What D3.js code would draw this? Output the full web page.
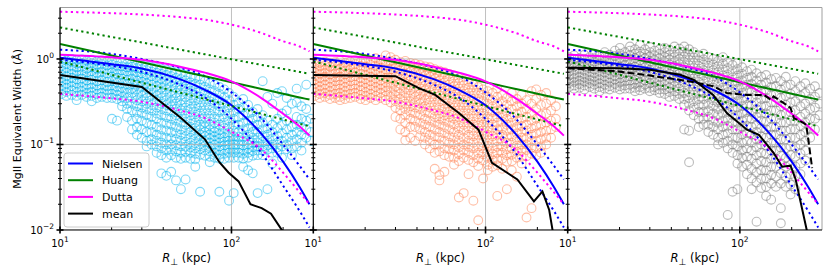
<!DOCTYPE html>
<html>
<head>
<meta charset="utf-8">
<script src="https://cdn.jsdelivr.net/npm/d3@7"></script>
<style>
body { margin: 0; background: #fff; }
svg { display: block; font-family: "DejaVu Sans", sans-serif; }
</style>
</head>
<body>
<script>
const width = 830;
const height = 277;

// axis extents and ticks
const xDomain = [10, 300];
const yDomain = [0.01, 4];
const xMajor = [10, 100];
const xMinor = [20, 30, 40, 50, 60, 70, 80, 90, 200];
const yMajor = [0.01, 0.1, 1];
const yMinor = [0.02, 0.03, 0.04, 0.05, 0.06, 0.07, 0.08, 0.09,
  0.2, 0.3, 0.4, 0.5, 0.6, 0.7, 0.8, 0.9, 2, 3];

// model curves (same in every panel)
const modelR = [10, 20, 30, 50, 70, 100, 150, 200, 250, 285];
const nielsenW = [1.035, 0.87, 0.776, 0.582, 0.436, 0.288, 0.132, 0.063, 0.0316, 0.020];
const nielsenHi = [1.285, 1.148, 1.0, 0.794, 0.631, 0.407, 0.2, 0.1, 0.056, 0.039];
const nielsenLo = [0.977, 0.832, 0.708, 0.501, 0.355, 0.2, 0.079, 0.033, 0.0166, 0.0107];
const huangW = [1.496, 1.096, 0.916, 0.73, 0.627, 0.535, 0.446, 0.392, 0.355, 0.335];
const huangHi = [2.34, 1.81, 1.56, 1.285, 1.135, 0.993, 0.853, 0.766, 0.705, 0.671];
const huangLo = [0.938, 0.653, 0.528, 0.405, 0.34, 0.282, 0.228, 0.196, 0.175, 0.163];
const duttaW = [1.122, 1.047, 0.977, 0.813, 0.692, 0.547, 0.347, 0.229, 0.162, 0.127];
const duttaHi = [3.57, 3.43, 3.31, 3.09, 2.88, 2.52, 2.01, 1.61, 1.40, 1.23];
const duttaLo = [0.39, 0.347, 0.316, 0.251, 0.204, 0.141, 0.087, 0.0468, 0.0275, 0.02];

// mean profiles
const mean1R = [10, 30, 50, 70, 85, 96, 110, 129, 150, 170, 200];
const mean1W = [0.65, 0.47, 0.21, 0.115, 0.062, 0.047, 0.037, 0.020, 0.018, 0.0155, 0.0095];
const mean2R = [10, 30, 41, 51, 57, 70, 91, 109, 153, 191, 214, 234, 246];
const mean2W = [0.65, 0.63, 0.457, 0.38, 0.32, 0.233, 0.149, 0.061, 0.039, 0.0216, 0.0283, 0.0173, 0.0095];
const mean3R = [10, 20, 30, 45, 54, 70, 84, 110, 129, 157, 176, 197, 211, 246];
const mean3W = [0.79, 0.78, 0.75, 0.655, 0.57, 0.38, 0.233, 0.149, 0.13, 0.08, 0.055, 0.0565, 0.039, 0.0095];
const dash3R = [10, 19, 30, 51, 70, 84, 96, 110, 138, 151, 157, 180, 197, 206, 235, 243, 263];
const dash3W = [0.78, 0.72, 0.64, 0.547, 0.48, 0.4, 0.39, 0.38, 0.38, 0.334, 0.365, 0.305, 0.267, 0.204, 0.178, 0.17, 0.053];

// scatter, one column per R: [R, W, W, ...]
const cyanCols = [
  [10.2, 1.0, 0.9, 0.82, 0.74, 0.66, 0.6, 0.54, 0.48, 0.43, 0.39],
  [10.9, 0.96, 0.87, 0.78, 0.7, 0.63, 0.57, 0.51, 0.46, 0.41, 0.37],
  [11.7, 1.0, 0.92, 0.83, 0.75, 0.67, 0.6, 0.53, 0.48, 0.43, 0.38],
  [12.5, 0.97, 0.88, 0.8, 0.72, 0.65, 0.58, 0.52, 0.46, 0.41, 0.37, 0.33],
  [13.4, 0.99, 0.9, 0.81, 0.73, 0.66, 0.59, 0.53, 0.47, 0.42, 0.38],
  [14.3, 0.95, 0.86, 0.77, 0.7, 0.63, 0.56, 0.5, 0.45, 0.4, 0.36],
  [15.3, 0.98, 0.89, 0.8, 0.72, 0.64, 0.57, 0.51, 0.46, 0.41, 0.37, 0.32],
  [16.4, 0.94, 0.85, 0.77, 0.69, 0.62, 0.55, 0.49, 0.44, 0.39, 0.35],
  [17.5, 0.96, 0.87, 0.79, 0.71, 0.63, 0.56, 0.5, 0.45, 0.4, 0.36],
  [18.8, 0.93, 0.84, 0.76, 0.68, 0.61, 0.54, 0.48, 0.43, 0.39, 0.35],
  [20.1, 0.95, 0.86, 0.78, 0.7, 0.62, 0.55, 0.49, 0.44, 0.39, 0.35, 0.2],
  [21.5, 0.92, 0.83, 0.75, 0.67, 0.6, 0.53, 0.47, 0.42, 0.38, 0.34, 0.19],
  [23, 0.9, 0.82, 0.74, 0.66, 0.59, 0.52, 0.46, 0.41, 0.36, 0.32, 0.28],
  [24.6, 0.88, 0.8, 0.72, 0.64, 0.57, 0.51, 0.45, 0.4, 0.35, 0.3, 0.26, 0.21],
  [26.3, 0.9, 0.81, 0.73, 0.65, 0.58, 0.51, 0.45, 0.4, 0.35, 0.3, 0.25, 0.19, 0.15],
  [28.1, 0.86, 0.78, 0.7, 0.63, 0.56, 0.5, 0.44, 0.38, 0.33, 0.28, 0.24, 0.2, 0.16, 0.13],
  [30, 0.84, 0.76, 0.68, 0.61, 0.54, 0.48, 0.42, 0.37, 0.32, 0.27, 0.23, 0.19, 0.15, 0.12],
  [32, 0.82, 0.74, 0.66, 0.59, 0.52, 0.46, 0.4, 0.35, 0.3, 0.26, 0.22, 0.18, 0.14, 0.11, 0.095],
  [34.2, 0.8, 0.71, 0.63, 0.56, 0.5, 0.44, 0.38, 0.33, 0.29, 0.25, 0.21, 0.17, 0.14, 0.115, 0.1],
  [36.6, 0.78, 0.69, 0.61, 0.54, 0.48, 0.42, 0.37, 0.32, 0.27, 0.23, 0.2, 0.16, 0.13, 0.11, 0.095, 0.08],
  [39, 0.76, 0.67, 0.59, 0.52, 0.46, 0.4, 0.35, 0.3, 0.26, 0.22, 0.18, 0.15, 0.125, 0.105, 0.09, 0.075, 0.046],
  [41.7, 0.74, 0.65, 0.57, 0.5, 0.44, 0.38, 0.33, 0.29, 0.25, 0.21, 0.175, 0.145, 0.12, 0.1, 0.085, 0.07, 0.043],
  [44.5, 0.72, 0.63, 0.55, 0.48, 0.42, 0.37, 0.32, 0.28, 0.24, 0.2, 0.17, 0.14, 0.118, 0.1, 0.088, 0.075, 0.048],
  [47.5, 0.7, 0.6, 0.53, 0.46, 0.4, 0.35, 0.3, 0.26, 0.22, 0.19, 0.16, 0.135, 0.115, 0.098, 0.083, 0.07, 0.038],
  [50.7, 0.68, 0.58, 0.5, 0.44, 0.38, 0.33, 0.29, 0.25, 0.21, 0.18, 0.15, 0.13, 0.11, 0.095, 0.08, 0.068, 0.03],
  [54, 0.65, 0.56, 0.48, 0.42, 0.36, 0.31, 0.27, 0.23, 0.2, 0.17, 0.145, 0.125, 0.108, 0.094, 0.082, 0.07, 0.039],
  [57.7, 0.62, 0.53, 0.46, 0.4, 0.35, 0.3, 0.26, 0.22, 0.19, 0.16, 0.14, 0.12, 0.105, 0.092, 0.08, 0.068],
  [61.5, 0.6, 0.51, 0.44, 0.38, 0.33, 0.28, 0.24, 0.21, 0.18, 0.155, 0.135, 0.118, 0.103, 0.09, 0.078, 0.067, 0.055],
  [65.6, 0.58, 0.5, 0.42, 0.36, 0.31, 0.27, 0.23, 0.2, 0.17, 0.15, 0.13, 0.115, 0.1, 0.088, 0.076, 0.028],
  [70, 0.55, 0.47, 0.4, 0.34, 0.29, 0.25, 0.21, 0.18, 0.16, 0.14, 0.125, 0.11, 0.097, 0.085, 0.074],
  [74.7, 0.52, 0.44, 0.37, 0.32, 0.27, 0.23, 0.2, 0.17, 0.15, 0.13, 0.118, 0.105, 0.094, 0.083, 0.072, 0.062],
  [79.7, 0.5, 0.42, 0.35, 0.3, 0.25, 0.21, 0.18, 0.155, 0.14, 0.125, 0.112, 0.1, 0.09, 0.08, 0.07],
  [85, 0.47, 0.39, 0.33, 0.28, 0.24, 0.2, 0.17, 0.148, 0.132, 0.118, 0.106, 0.095, 0.086, 0.076, 0.068, 0.028],
  [90.7, 0.44, 0.36, 0.3, 0.25, 0.21, 0.18, 0.155, 0.135, 0.12, 0.108, 0.098, 0.088, 0.078, 0.068],
  [96.8, 0.4, 0.33, 0.27, 0.23, 0.19, 0.16, 0.138, 0.122, 0.11, 0.1, 0.09, 0.08, 0.07, 0.022],
  [103, 0.36, 0.29, 0.24, 0.2, 0.17, 0.145, 0.125, 0.112, 0.1, 0.09, 0.08, 0.07, 0.027],
  [110, 0.31, 0.26, 0.21, 0.17, 0.14, 0.122, 0.11, 0.1, 0.09, 0.08, 0.07],
  [117, 0.34, 0.27, 0.22, 0.18, 0.15, 0.125, 0.11, 0.098, 0.088, 0.078, 0.068, 0.055],
  [125, 0.29, 0.23, 0.19, 0.155, 0.13, 0.112, 0.1, 0.09, 0.08, 0.07, 0.05],
  [133, 0.24, 0.2, 0.165, 0.14, 0.12, 0.105, 0.094, 0.084, 0.074, 0.046],
  [142, 0.26, 0.21, 0.17, 0.14, 0.12, 0.106, 0.095, 0.085, 0.075, 0.027],
  [152, 0.55, 0.22, 0.18, 0.15, 0.125, 0.108, 0.095, 0.085, 0.075],
  [162, 0.36, 0.19, 0.155, 0.13, 0.11, 0.098, 0.087, 0.03],
  [173, 0.3, 0.17, 0.14, 0.118, 0.1, 0.09, 0.08, 0.06],
  [185, 0.4, 0.2, 0.155, 0.125, 0.105, 0.092, 0.08],
  [197, 0.42, 0.23, 0.17, 0.135, 0.11, 0.095, 0.07],
  [210, 0.35, 0.25, 0.19, 0.15, 0.12, 0.1, 0.088],
  [225, 0.3, 0.16, 0.13, 0.11, 0.09, 0.075],
  [240, 0.45, 0.31, 0.21, 0.17, 0.14, 0.115, 0.095],
  [256, 0.28, 0.2, 0.16, 0.13, 0.105, 0.085],
  [273, 0.5, 0.26, 0.19, 0.15, 0.12],
  [290, 0.2, 0.14, 0.11]
];

const coralCols = [
  [10.2, 0.94, 0.86, 0.78, 0.7, 0.63, 0.57, 0.51, 0.46, 0.41, 0.37],
  [10.9, 0.9, 0.82, 0.74, 0.67, 0.6, 0.54, 0.48, 0.43, 0.39, 0.35],
  [11.7, 0.93, 0.84, 0.76, 0.69, 0.62, 0.56, 0.5, 0.45, 0.4, 0.36],
  [12.5, 0.89, 0.81, 0.73, 0.66, 0.59, 0.53, 0.47, 0.42, 0.38, 0.34],
  [13.4, 0.92, 0.83, 0.75, 0.68, 0.61, 0.55, 0.49, 0.44, 0.39, 0.35],
  [14.3, 0.95, 0.86, 0.77, 0.69, 0.62, 0.56, 0.5, 0.45, 0.4, 0.36, 0.33],
  [15.3, 0.9, 0.81, 0.73, 0.66, 0.59, 0.53, 0.47, 0.42, 0.38, 0.34],
  [16.4, 0.93, 0.84, 0.76, 0.68, 0.61, 0.55, 0.49, 0.44, 0.39, 0.35],
  [17.5, 0.97, 0.87, 0.78, 0.7, 0.63, 0.56, 0.5, 0.45, 0.4, 0.36],
  [18.8, 0.92, 0.83, 0.75, 0.67, 0.6, 0.54, 0.48, 0.43, 0.38, 0.34],
  [20.1, 1.0, 0.9, 0.81, 0.73, 0.65, 0.58, 0.52, 0.46, 0.41, 0.37, 0.33],
  [21.5, 0.95, 0.86, 0.77, 0.69, 0.62, 0.55, 0.49, 0.44, 0.39, 0.35],
  [23, 1.02, 0.92, 0.83, 0.74, 0.66, 0.59, 0.53, 0.47, 0.42, 0.37, 0.33],
  [24.6, 0.97, 0.88, 0.79, 0.71, 0.63, 0.56, 0.5, 0.45, 0.4, 0.35],
  [26.3, 1.1, 0.93, 0.84, 0.75, 0.67, 0.6, 0.53, 0.47, 0.42, 0.37, 0.33],
  [28.1, 1.05, 0.95, 0.85, 0.76, 0.68, 0.6, 0.53, 0.47, 0.41, 0.36, 0.31],
  [30, 0.98, 0.88, 0.79, 0.7, 0.62, 0.55, 0.48, 0.42, 0.37, 0.32, 0.27, 0.21],
  [32, 0.92, 0.83, 0.74, 0.66, 0.58, 0.51, 0.45, 0.39, 0.34, 0.29, 0.25, 0.2, 0.15],
  [34.2, 0.95, 0.85, 0.76, 0.67, 0.59, 0.52, 0.46, 0.4, 0.35, 0.3, 0.26, 0.22, 0.18, 0.14, 0.112],
  [36.6, 0.9, 0.8, 0.71, 0.63, 0.56, 0.49, 0.43, 0.37, 0.32, 0.28, 0.24, 0.2, 0.16, 0.12],
  [39, 0.88, 0.78, 0.69, 0.61, 0.54, 0.47, 0.41, 0.36, 0.31, 0.27, 0.23, 0.19, 0.16, 0.11],
  [41.7, 0.85, 0.76, 0.67, 0.59, 0.52, 0.45, 0.39, 0.34, 0.3, 0.26, 0.22, 0.18, 0.15, 0.125],
  [44.5, 0.82, 0.73, 0.64, 0.56, 0.49, 0.43, 0.38, 0.33, 0.28, 0.24, 0.2, 0.17, 0.14, 0.12, 0.1],
  [47.5, 0.8, 0.7, 0.62, 0.54, 0.47, 0.41, 0.36, 0.31, 0.27, 0.23, 0.19, 0.16, 0.13, 0.11, 0.09],
  [50.7, 0.76, 0.67, 0.59, 0.52, 0.45, 0.39, 0.34, 0.29, 0.25, 0.21, 0.18, 0.15, 0.125, 0.1, 0.08, 0.052],
  [54, 0.73, 0.64, 0.56, 0.49, 0.42, 0.37, 0.32, 0.27, 0.23, 0.2, 0.17, 0.14, 0.12, 0.1, 0.083, 0.044, 0.038],
  [57.7, 0.7, 0.61, 0.53, 0.46, 0.4, 0.35, 0.3, 0.26, 0.22, 0.19, 0.16, 0.135, 0.11, 0.09, 0.075, 0.048],
  [61.5, 0.67, 0.58, 0.5, 0.44, 0.38, 0.33, 0.28, 0.24, 0.21, 0.18, 0.15, 0.125, 0.105, 0.088, 0.072],
  [65.6, 0.64, 0.55, 0.48, 0.42, 0.36, 0.31, 0.27, 0.23, 0.2, 0.17, 0.14, 0.12, 0.1, 0.085, 0.07, 0.058],
  [70, 0.6, 0.52, 0.45, 0.39, 0.34, 0.29, 0.25, 0.21, 0.18, 0.155, 0.13, 0.11, 0.092, 0.077, 0.064, 0.024],
  [74.7, 0.56, 0.49, 0.42, 0.36, 0.31, 0.27, 0.23, 0.2, 0.17, 0.145, 0.12, 0.1, 0.085, 0.07, 0.027],
  [79.7, 0.54, 0.46, 0.4, 0.34, 0.29, 0.25, 0.21, 0.18, 0.155, 0.13, 0.11, 0.094, 0.08, 0.066, 0.045],
  [85, 0.5, 0.43, 0.37, 0.32, 0.27, 0.23, 0.2, 0.17, 0.145, 0.125, 0.105, 0.09, 0.075, 0.062, 0.022],
  [90.7, 0.47, 0.4, 0.34, 0.29, 0.25, 0.21, 0.18, 0.155, 0.13, 0.112, 0.095, 0.08, 0.068, 0.056, 0.013],
  [96.8, 0.44, 0.38, 0.32, 0.27, 0.23, 0.2, 0.17, 0.145, 0.125, 0.105, 0.09, 0.077, 0.065, 0.04],
  [103, 0.42, 0.36, 0.3, 0.25, 0.21, 0.18, 0.155, 0.13, 0.112, 0.096, 0.082, 0.07, 0.058, 0.05],
  [110, 0.4, 0.33, 0.28, 0.24, 0.2, 0.17, 0.145, 0.125, 0.105, 0.09, 0.077, 0.065, 0.055],
  [117, 0.45, 0.36, 0.3, 0.25, 0.21, 0.18, 0.15, 0.13, 0.11, 0.094, 0.08, 0.068, 0.057, 0.025],
  [125, 0.38, 0.32, 0.26, 0.22, 0.185, 0.155, 0.13, 0.11, 0.095, 0.08, 0.068, 0.052],
  [133, 0.35, 0.29, 0.24, 0.2, 0.17, 0.145, 0.122, 0.104, 0.088, 0.075, 0.063, 0.03],
  [142, 0.4, 0.32, 0.26, 0.21, 0.18, 0.15, 0.125, 0.105, 0.09, 0.076, 0.064, 0.05],
  [152, 0.34, 0.28, 0.23, 0.19, 0.16, 0.135, 0.115, 0.097, 0.082, 0.07, 0.042],
  [162, 0.38, 0.3, 0.24, 0.2, 0.165, 0.14, 0.12, 0.1, 0.085, 0.072, 0.06],
  [173, 0.33, 0.26, 0.21, 0.17, 0.145, 0.12, 0.1, 0.086, 0.073, 0.014],
  [185, 0.42, 0.3, 0.23, 0.19, 0.155, 0.13, 0.11, 0.092, 0.078, 0.018],
  [197, 0.44, 0.34, 0.26, 0.2, 0.165, 0.135, 0.11, 0.09, 0.075],
  [210, 0.38, 0.29, 0.22, 0.17, 0.14, 0.115, 0.095, 0.08],
  [225, 0.4, 0.3, 0.23, 0.18, 0.145, 0.12, 0.1],
  [240, 0.33, 0.25, 0.19, 0.15, 0.12],
  [256, 0.28, 0.2, 0.16]
];

const grayCols = [
  [10.2, 1.05, 0.95, 0.86, 0.78, 0.71, 0.64, 0.58, 0.52, 0.47],
  [10.9, 1.1, 0.99, 0.9, 0.81, 0.73, 0.66, 0.6, 0.54, 0.49, 0.45],
  [11.7, 1.02, 0.93, 0.84, 0.76, 0.69, 0.62, 0.56, 0.51, 0.46],
  [12.5, 1.12, 1.0, 0.9, 0.81, 0.73, 0.66, 0.6, 0.54, 0.49, 0.44],
  [13.4, 1.05, 0.95, 0.86, 0.78, 0.7, 0.63, 0.57, 0.52, 0.47],
  [14.3, 1.15, 1.02, 0.92, 0.83, 0.75, 0.68, 0.61, 0.55, 0.5, 0.45],
  [15.3, 1.08, 0.97, 0.88, 0.79, 0.71, 0.64, 0.58, 0.52, 0.47, 0.42],
  [16.4, 1.2, 1.05, 0.94, 0.85, 0.76, 0.69, 0.62, 0.56, 0.5, 0.45],
  [17.5, 1.12, 1.0, 0.9, 0.81, 0.73, 0.66, 0.59, 0.53, 0.48, 0.44],
  [18.8, 1.25, 1.08, 0.97, 0.87, 0.78, 0.7, 0.63, 0.57, 0.51, 0.46],
  [20.1, 1.35, 1.15, 1.02, 0.92, 0.82, 0.74, 0.66, 0.59, 0.53, 0.48, 0.44],
  [21.5, 1.2, 1.06, 0.95, 0.85, 0.76, 0.68, 0.61, 0.55, 0.49, 0.45],
  [23, 1.4, 1.25, 1.1, 0.98, 0.88, 0.79, 0.7, 0.63, 0.56, 0.5, 0.45],
  [24.6, 1.3, 1.15, 1.02, 0.91, 0.81, 0.72, 0.64, 0.57, 0.51, 0.46, 0.42],
  [26.3, 1.45, 1.22, 1.08, 0.96, 0.85, 0.76, 0.68, 0.6, 0.53, 0.47, 0.43],
  [28.1, 1.3, 1.15, 1.02, 0.9, 0.8, 0.71, 0.63, 0.56, 0.5, 0.45],
  [30, 1.38, 1.2, 1.06, 0.94, 0.83, 0.74, 0.66, 0.58, 0.52, 0.46, 0.42],
  [32, 1.25, 1.1, 0.97, 0.86, 0.76, 0.68, 0.6, 0.53, 0.47, 0.43],
  [34.2, 1.3, 1.15, 1.01, 0.89, 0.79, 0.7, 0.62, 0.55, 0.49, 0.44, 0.4],
  [36.6, 1.35, 1.2, 1.05, 0.92, 0.81, 0.72, 0.64, 0.56, 0.5, 0.44, 0.39],
  [39, 1.28, 1.12, 0.98, 0.86, 0.76, 0.67, 0.59, 0.52, 0.46, 0.41, 0.36],
  [41.7, 1.4, 1.2, 1.05, 0.92, 0.81, 0.71, 0.62, 0.55, 0.48, 0.42, 0.37],
  [44.5, 1.32, 1.15, 1.0, 0.87, 0.76, 0.67, 0.59, 0.52, 0.45, 0.39, 0.34],
  [47.5, 1.4, 1.22, 1.06, 0.92, 0.8, 0.7, 0.61, 0.53, 0.46, 0.4, 0.34, 0.29, 0.15],
  [50.7, 1.3, 1.12, 0.97, 0.84, 0.73, 0.63, 0.55, 0.48, 0.41, 0.35, 0.3, 0.25, 0.145, 0.062],
  [54, 1.2, 1.04, 0.9, 0.78, 0.68, 0.59, 0.51, 0.44, 0.38, 0.32, 0.27, 0.22],
  [57.7, 1.1, 0.96, 0.83, 0.72, 0.62, 0.54, 0.47, 0.4, 0.34, 0.29, 0.24, 0.2, 0.16],
  [61.5, 1.15, 0.99, 0.86, 0.74, 0.64, 0.55, 0.47, 0.4, 0.34, 0.29, 0.24, 0.2, 0.17],
  [65.6, 1.05, 0.9, 0.78, 0.67, 0.57, 0.49, 0.42, 0.36, 0.3, 0.25, 0.21, 0.17, 0.14],
  [70, 1.0, 0.86, 0.74, 0.63, 0.54, 0.46, 0.39, 0.33, 0.28, 0.23, 0.19, 0.16, 0.13],
  [74.7, 0.95, 0.82, 0.7, 0.6, 0.51, 0.43, 0.37, 0.31, 0.26, 0.22, 0.18, 0.15, 0.12, 0.1],
  [79.7, 1.05, 0.88, 0.75, 0.64, 0.54, 0.46, 0.39, 0.33, 0.28, 0.23, 0.19, 0.16, 0.13, 0.105],
  [85, 0.92, 0.78, 0.66, 0.56, 0.48, 0.41, 0.35, 0.29, 0.24, 0.2, 0.165, 0.135, 0.11, 0.09, 0.015],
  [90.7, 0.85, 0.72, 0.61, 0.52, 0.44, 0.37, 0.31, 0.26, 0.22, 0.18, 0.15, 0.12, 0.1, 0.08, 0.028],
  [96.8, 0.9, 0.76, 0.64, 0.54, 0.45, 0.38, 0.32, 0.27, 0.22, 0.18, 0.15, 0.12, 0.095, 0.075, 0.06, 0.03],
  [103, 0.8, 0.67, 0.56, 0.47, 0.4, 0.33, 0.28, 0.23, 0.19, 0.16, 0.13, 0.105, 0.085, 0.07, 0.055],
  [110, 0.72, 0.6, 0.5, 0.42, 0.35, 0.29, 0.24, 0.2, 0.165, 0.135, 0.11, 0.09, 0.072, 0.058, 0.045],
  [117, 0.75, 0.62, 0.51, 0.42, 0.35, 0.29, 0.24, 0.2, 0.16, 0.13, 0.105, 0.085, 0.068, 0.052, 0.04, 0.03],
  [125, 0.68, 0.56, 0.46, 0.38, 0.31, 0.26, 0.21, 0.17, 0.14, 0.115, 0.093, 0.075, 0.06, 0.047, 0.036, 0.0125],
  [133, 0.62, 0.5, 0.41, 0.34, 0.28, 0.23, 0.19, 0.155, 0.125, 0.1, 0.08, 0.064, 0.05, 0.04, 0.031],
  [142, 0.65, 0.53, 0.43, 0.35, 0.28, 0.23, 0.185, 0.15, 0.12, 0.097, 0.078, 0.062, 0.05, 0.04, 0.032, 0.025],
  [152, 0.58, 0.47, 0.38, 0.31, 0.25, 0.2, 0.16, 0.13, 0.105, 0.085, 0.068, 0.055, 0.044, 0.035, 0.0226],
  [162, 0.6, 0.48, 0.39, 0.31, 0.25, 0.2, 0.16, 0.13, 0.105, 0.085, 0.068, 0.055, 0.042, 0.032],
  [173, 0.55, 0.44, 0.35, 0.28, 0.22, 0.18, 0.145, 0.115, 0.092, 0.074, 0.06, 0.046, 0.035, 0.012, 0.018],
  [185, 0.62, 0.48, 0.37, 0.29, 0.23, 0.18, 0.145, 0.115, 0.09, 0.07, 0.055, 0.042, 0.032],
  [197, 0.5, 0.39, 0.31, 0.24, 0.19, 0.15, 0.12, 0.095, 0.075, 0.058, 0.045, 0.034, 0.026],
  [210, 0.55, 0.42, 0.32, 0.25, 0.19, 0.15, 0.12, 0.093, 0.072, 0.055, 0.042, 0.03],
  [225, 0.48, 0.37, 0.28, 0.21, 0.165, 0.13, 0.1, 0.078, 0.06, 0.045],
  [240, 0.52, 0.4, 0.3, 0.23, 0.18, 0.14, 0.11, 0.085, 0.065],
  [256, 0.45, 0.34, 0.26, 0.2, 0.155, 0.12],
  [273, 0.48, 0.36, 0.27, 0.2, 0.15],
  [290, 0.4, 0.3, 0.22]
];

const plotTop = 7.5;
const plotBottom = 230;
const panelEdges = [[60, 313.3], [313.3, 567.7], [567.7, 822]];

const panels = [
  {cols: cyanCols, color: "#00b4f0", opacity: 0.5, means: [{R: mean1R, W: mean1W, dash: null}]},
  {cols: coralCols, color: "#ff7f50", opacity: 0.5, means: [{R: mean2R, W: mean2W, dash: null}]},
  {cols: grayCols, color: "#7a7a7a", opacity: 0.5, means: [{R: mean3R, W: mean3W, dash: null},
                                                            {R: dash3R, W: dash3W, dash: "7,3"}]}
];

const models = [
  {W: nielsenW, color: "blue", dash: null},
  {W: nielsenHi, color: "blue", dash: "2.2,3.2"},
  {W: nielsenLo, color: "blue", dash: "2.2,3.2"},
  {W: huangW, color: "green", dash: null},
  {W: huangHi, color: "green", dash: "2.2,3.2"},
  {W: huangLo, color: "green", dash: "2.2,3.2"},
  {W: duttaW, color: "magenta", dash: null},
  {W: duttaHi, color: "magenta", dash: "2.2,3.2"},
  {W: duttaLo, color: "magenta", dash: "2.2,3.2"}
];

const legendItems = [
  {label: "Nielsen", color: "blue"},
  {label: "Huang", color: "green"},
  {label: "Dutta", color: "magenta"},
  {label: "mean", color: "black"}
];

const svg = d3.select("body").append("svg")
  .attr("width", width)
  .attr("height", height);

const y = d3.scaleLog().domain(yDomain).range([plotBottom, plotTop]);

function powerLabel(sel, exp) {
  sel.text("10");
  sel.append("tspan")
    .attr("dy", -5)
    .attr("font-size", 7.5)
    .text(exp);
}

panels.forEach((p, i) => {
  const [left, right] = panelEdges[i];
  const x = d3.scaleLog().domain(xDomain).range([left, right]);
  const g = svg.append("g");

  g.append("clipPath").attr("id", "clip" + i)
    .append("rect")
    .attr("x", left).attr("y", plotTop)
    .attr("width", right - left).attr("height", plotBottom - plotTop);

  const plot = g.append("g").attr("clip-path", `url(#clip${i})`);

  const pts = p.cols.flatMap(c => c.slice(1).map(w => [c[0], w]));
  plot.append("g")
    .selectAll("circle")
    .data(pts)
    .join("circle")
    .attr("cx", d => x(d[0]))
    .attr("cy", d => y(d[1]))
    .attr("r", 4.4)
    .attr("fill", "none")
    .attr("stroke", p.color)
    .attr("stroke-opacity", p.opacity)
    .attr("stroke-width", 1.1);

  // grid
  const grid = plot.append("g").attr("stroke", "#b0b0b0").attr("stroke-width", 0.8);
  grid.selectAll(".gx").data(xMajor).join("line")
    .attr("x1", d => x(d)).attr("x2", d => x(d))
    .attr("y1", plotTop).attr("y2", plotBottom);
  grid.selectAll(".gy").data(yMajor).join("line")
    .attr("x1", left).attr("x2", right)
    .attr("y1", d => y(d)).attr("y2", d => y(d));

  const line = d3.line()
    .x(d => x(d[0]))
    .y(d => y(d[1]))
    .curve(d3.curveMonotoneX);

  models.forEach(m => {
    plot.append("path")
      .datum(d3.zip(modelR, m.W))
      .attr("d", line)
      .attr("fill", "none")
      .attr("stroke", m.color)
      .attr("stroke-width", 2)
      .attr("stroke-dasharray", m.dash);
  });

  const meanLine = d3.line().x(d => x(d[0])).y(d => y(d[1]));
  p.means.forEach(m => {
    plot.append("path")
      .datum(d3.zip(m.R, m.W))
      .attr("d", meanLine)
      .attr("fill", "none")
      .attr("stroke", "black")
      .attr("stroke-width", 2)
      .attr("stroke-dasharray", m.dash);
  });

  // frame: top and right grey, left and bottom black
  g.append("line").attr("x1", left).attr("x2", right)
    .attr("y1", plotTop).attr("y2", plotTop)
    .attr("stroke", "#a0a0a0").attr("stroke-width", 1);
  if (i === panels.length - 1) {
    g.append("line").attr("x1", right).attr("x2", right)
      .attr("y1", plotTop).attr("y2", plotBottom)
      .attr("stroke", "#a0a0a0").attr("stroke-width", 1);
  }
  g.append("line").attr("x1", left).attr("x2", right)
    .attr("y1", plotBottom).attr("y2", plotBottom)
    .attr("stroke", "black").attr("stroke-width", 1.2);
  g.append("line").attr("x1", left).attr("x2", left)
    .attr("y1", plotTop).attr("y2", plotBottom)
    .attr("stroke", "black").attr("stroke-width", 1.2);

  // y ticks, in and out
  g.selectAll(".ymaj").data(yMajor).join("line")
    .attr("x1", left - 3.5).attr("x2", left + 3.5)
    .attr("y1", d => y(d)).attr("y2", d => y(d))
    .attr("stroke", "black").attr("stroke-width", 1.6);
  g.selectAll(".ymin").data(yMinor).join("line")
    .attr("x1", left - 2).attr("x2", left + 2)
    .attr("y1", d => y(d)).attr("y2", d => y(d))
    .attr("stroke", "black").attr("stroke-width", 1);

  // x ticks
  g.selectAll(".xmaj").data(xMajor).join("line")
    .attr("x1", d => x(d)).attr("x2", d => x(d))
    .attr("y1", plotBottom - 3.5).attr("y2", plotBottom + 3.5)
    .attr("stroke", "black").attr("stroke-width", 1.6);
  g.selectAll(".xmin").data(xMinor).join("line")
    .attr("x1", d => x(d)).attr("x2", d => x(d))
    .attr("y1", plotBottom - 3).attr("y2", plotBottom)
    .attr("stroke", "black").attr("stroke-width", 1);

  g.selectAll(".xlab").data(xMajor).join("text")
    .attr("x", d => x(d))
    .attr("y", plotBottom + 17)
    .attr("text-anchor", "middle")
    .attr("font-size", 10)
    .each(function(d) { powerLabel(d3.select(this), String(Math.round(Math.log10(d)))); });

  const xl = g.append("text")
    .attr("x", (left + right) / 2)
    .attr("y", 262)
    .attr("text-anchor", "middle")
    .attr("font-size", 11.5);
  xl.append("tspan").attr("font-style", "italic").text("R");
  xl.append("tspan").attr("dy", 3).attr("font-size", 9).text("\u22a5");
  xl.append("tspan").attr("dy", -3).text("  (kpc)");

  if (i === 0) {
    g.selectAll(".ylab").data(yMajor).join("text")
      .attr("x", left - 6)
      .attr("y", d => y(d) + 4)
      .attr("text-anchor", "end")
      .attr("font-size", 10)
      .each(function(d) {
        const e = Math.round(Math.log10(d));
        powerLabel(d3.select(this), e < 0 ? "\u2212" + (-e) : String(e));
      });

    // legend
    const lg = g.append("g");
    lg.append("rect")
      .attr("x", 64).attr("y", 153)
      .attr("width", 85).attr("height", 74)
      .attr("rx", 3)
      .attr("fill", "white").attr("fill-opacity", 0.8)
      .attr("stroke", "#cccccc").attr("stroke-width", 1);
    const items = lg.selectAll(".item").data(legendItems).join("g")
      .attr("transform", (d, k) => `translate(68,${163.5 + k * 16.7})`);
    items.append("line")
      .attr("x1", 0).attr("x2", 25)
      .attr("stroke", d => d.color).attr("stroke-width", 2);
    items.append("text")
      .attr("x", 34).attr("y", 4)
      .attr("font-size", 11)
      .text(d => d.label);
  }
});

svg.append("text")
  .attr("transform", `translate(21,${(plotTop + plotBottom) / 2}) rotate(-90)`)
  .attr("text-anchor", "middle")
  .attr("font-size", 11)
  .text("MgII Equivalent Width (\u00c5)");
</script>
</body>
</html>
